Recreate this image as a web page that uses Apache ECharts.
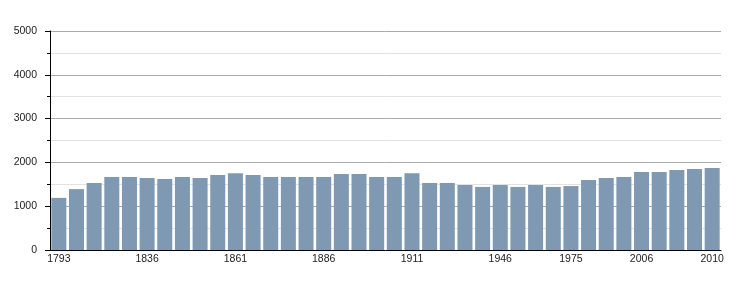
<!DOCTYPE html>
<html>
<head>
<meta charset="utf-8">
<script src="https://cdn.jsdelivr.net/npm/echarts@6/dist/echarts.min.js"></script>
<style>html,body{margin:0;padding:0;background:#fff}#c{width:750px;height:300px}</style>
</head>
<body>
<div id="c"></div>
<script>
var years = ['1793','1800','1806','1821','1831','1836','1841','1846','1851','1856','1861','1866','1872','1876','1881','1886','1891','1896','1901','1906','1911','1921','1926','1931','1936','1946','1954','1962','1968','1975','1982','1990','1999','2006','2007','2008','2009','2010'];
var population = [1190,1390,1530,1665,1665,1645,1620,1665,1645,1710,1755,1710,1665,1665,1665,1665,1735,1735,1665,1665,1755,1530,1530,1485,1440,1485,1440,1485,1440,1460,1600,1645,1665,1780,1780,1825,1850,1870];
var labelYears = ['1793','1836','1861','1886','1911','1946','1975','2006','2010'];
var yTicks = [0,1000,2000,3000,4000,5000];

var chart = echarts.init(document.getElementById('c'), null, {renderer:'canvas'});
chart.setOption({
  animation:false,
  grid:{left:50,right:29,top:31,bottom:50,containLabel:false},
  xAxis:{
    type:'category',
    data:years,
    boundaryGap:true,
    axisLine:{show:true,lineStyle:{color:'#000',width:1}},
    axisTick:{show:false},
    axisLabel:{
      interval:function(i,v){return labelYears.indexOf(v)>=0;},
      color:'#222',fontSize:10.5,fontFamily:'Liberation Sans, Arial, sans-serif',margin:4
    },
    splitLine:{show:false}
  },
  yAxis:{
    type:'value',
    min:yTicks[0],max:yTicks[yTicks.length-1],interval:1000,
    axisLine:{show:true,lineStyle:{color:'#000',width:1}},
    axisTick:{show:true,length:5,lineStyle:{color:'#000'}},
    minorTick:{show:true,splitNumber:2,length:3,lineStyle:{color:'#000'}},
    minorSplitLine:{show:true,lineStyle:{color:'#e2e2e2',width:1}},
    splitLine:{show:true,lineStyle:{color:'#aaaaaa',width:1}},
    axisLabel:{color:'#222',fontSize:10.5,fontFamily:'Liberation Sans, Arial, sans-serif',margin:13,
      formatter:function(v){return String(v);}}
  },
  series:[{
    type:'bar',
    data:population,
    barCategoryGap:'15%',
    itemStyle:{color:'#7f99b3'}
  }]
});
</script>
</body>
</html>
